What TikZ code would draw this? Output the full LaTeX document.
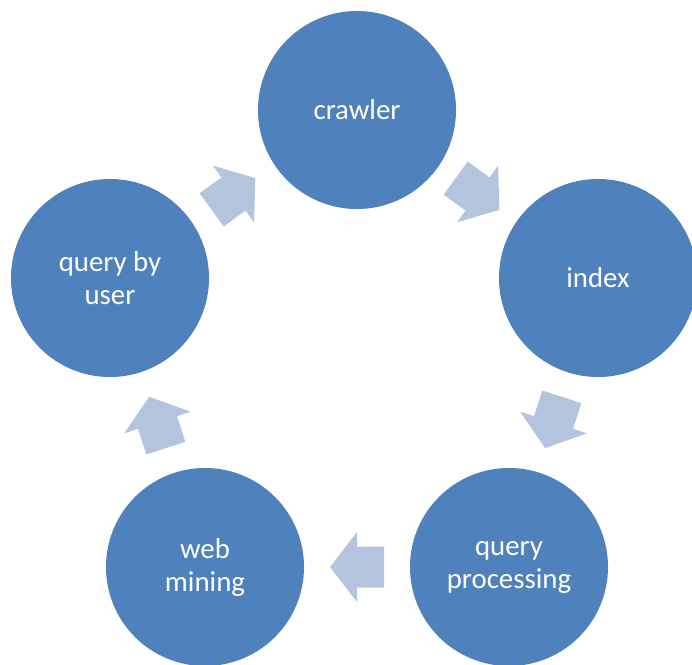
\documentclass[tikz,border=0pt]{standalone}
\usepackage{fontspec}
\setmainfont{Carlito}
\usepackage{tikz}
\usetikzlibrary{calc}
\definecolor{stepblue}{RGB}{79,129,189}
\definecolor{arrowblue}{RGB}{180,196,222}

\tikzset{
  stage/.style={circle, fill=stepblue, minimum size=4.95cm, inner sep=0pt,
    text=white, align=center, font=\fontsize{20.5}{23.5}\selectfont},
  cyclearrow/.pic={
    \fill[arrowblue] (-27,-20.5) -- (0,-20.5) -- (0,-35) -- (27,0)
      -- (0,35) -- (0,20.5) -- (-27,20.5) -- cycle;
  }
}

\begin{document}
\begin{tikzpicture}[x=0.025cm, y=-0.025cm]
\clip (0,0) rectangle (692,665);

% the five stages of the cycle
\node[stage] (crawler)   at (357,110) {crawler};
\node[stage] (index)     at (598,278) {index};
\node[stage] (qproc)     at (509,567) {query\\processing};
\node[stage] (webmining) at (205,567) {web\\mining};
\node[stage] (queryuser) at (110,278) {query by\\user};

% block arrows half way between neighbours
\foreach \a/\b/\ang in {crawler/index/-36, index/qproc/-108, qproc/webmining/180,
    webmining/queryuser/108, queryuser/crawler/36}
  \pic[rotate=\ang] at ($(\a)!0.5!(\b)$) {cyclearrow};

\end{tikzpicture}
\end{document}
